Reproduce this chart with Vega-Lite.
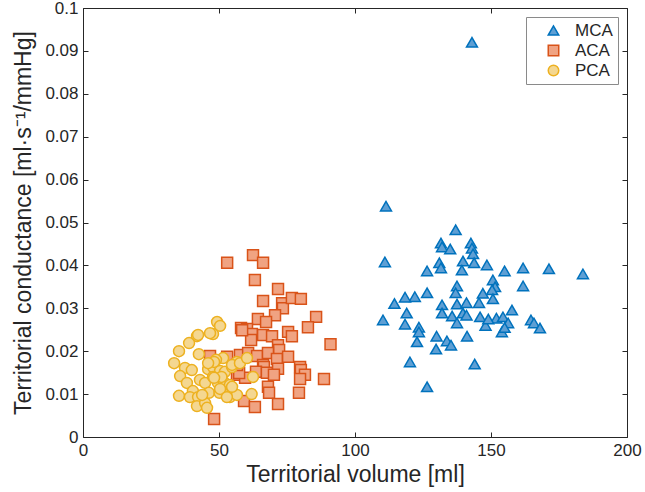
{
  "$schema": "https://vega.github.io/schema/vega-lite/v6.json",
  "width": 544,
  "height": 429,
  "autosize": "none",
  "padding": {"left": 83, "top": 8, "right": 18, "bottom": 55},
  "background": "white",
  "config": {
    "view": {"stroke": null},
    "font": "Liberation Sans",
    "axis": {
      "grid": false,
      "domainColor": "#262626",
      "tickColor": "#262626",
      "labelColor": "#262626",
      "titleColor": "#262626",
      "labelFontSize": 17,
      "titleFontSize": 23,
      "titleFontWeight": "normal",
      "labelFont": "Liberation Sans",
      "titleFont": "Liberation Sans",
      "domainWidth": 1,
      "tickWidth": 1,
      "tickSize": -5,
      "labelPadding": 10,
      "labelFlush": false,
      "labelOverlap": false
    },
    "legend": {
      "orient": "top-right",
      "offset": 9,
      "padding": 5,
      "symbolOffset": 14,
      "strokeColor": "#8a8a8a",
      "fillColor": "white",
      "labelFontSize": 17,
      "labelColor": "#262626",
      "labelFont": "Liberation Sans",
      "labelOffset": 13,
      "symbolSize": 110,
      "symbolStrokeWidth": 1.5,
      "rowPadding": 2
    }
  },
  "data": {
    "values": [
      {"artery": "MCA", "volume": 143, "conductance": 0.092},
      {"artery": "MCA", "volume": 111.4, "conductance": 0.0538},
      {"artery": "MCA", "volume": 111, "conductance": 0.0408},
      {"artery": "MCA", "volume": 110.3, "conductance": 0.0273},
      {"artery": "MCA", "volume": 137, "conductance": 0.0483},
      {"artery": "MCA", "volume": 131.6, "conductance": 0.0452},
      {"artery": "MCA", "volume": 132, "conductance": 0.0443},
      {"artery": "MCA", "volume": 135, "conductance": 0.0438},
      {"artery": "MCA", "volume": 142.6, "conductance": 0.0452},
      {"artery": "MCA", "volume": 143, "conductance": 0.044},
      {"artery": "MCA", "volume": 143.4, "conductance": 0.0427},
      {"artery": "MCA", "volume": 131, "conductance": 0.0406},
      {"artery": "MCA", "volume": 131.6, "conductance": 0.0394},
      {"artery": "MCA", "volume": 139.7, "conductance": 0.041},
      {"artery": "MCA", "volume": 139.3, "conductance": 0.0389},
      {"artery": "MCA", "volume": 143.8, "conductance": 0.0406},
      {"artery": "MCA", "volume": 148.5, "conductance": 0.0401},
      {"artery": "MCA", "volume": 155, "conductance": 0.0387},
      {"artery": "MCA", "volume": 161.8, "conductance": 0.0394},
      {"artery": "MCA", "volume": 126.5, "conductance": 0.0387},
      {"artery": "MCA", "volume": 137.5, "conductance": 0.0352},
      {"artery": "MCA", "volume": 150.7, "conductance": 0.0366},
      {"artery": "MCA", "volume": 151.5, "conductance": 0.035},
      {"artery": "MCA", "volume": 150.4, "conductance": 0.0343},
      {"artery": "MCA", "volume": 161.8, "conductance": 0.0352},
      {"artery": "MCA", "volume": 137, "conductance": 0.0336},
      {"artery": "MCA", "volume": 126.5, "conductance": 0.0336},
      {"artery": "MCA", "volume": 122, "conductance": 0.0327},
      {"artery": "MCA", "volume": 118.4, "conductance": 0.0326},
      {"artery": "MCA", "volume": 114.5, "conductance": 0.0311},
      {"artery": "MCA", "volume": 132, "conductance": 0.0308},
      {"artery": "MCA", "volume": 137.5, "conductance": 0.031},
      {"artery": "MCA", "volume": 141, "conductance": 0.0313},
      {"artery": "MCA", "volume": 145.6, "conductance": 0.0313},
      {"artery": "MCA", "volume": 150.7, "conductance": 0.0322},
      {"artery": "MCA", "volume": 119, "conductance": 0.0289},
      {"artery": "MCA", "volume": 132, "conductance": 0.0289},
      {"artery": "MCA", "volume": 135.7, "conductance": 0.0282},
      {"artery": "MCA", "volume": 139.7, "conductance": 0.0289},
      {"artery": "MCA", "volume": 141, "conductance": 0.0284},
      {"artery": "MCA", "volume": 146, "conductance": 0.028},
      {"artery": "MCA", "volume": 152, "conductance": 0.0277},
      {"artery": "MCA", "volume": 154.4, "conductance": 0.028},
      {"artery": "MCA", "volume": 157.7, "conductance": 0.0296},
      {"artery": "MCA", "volume": 156.3, "conductance": 0.0266},
      {"artery": "MCA", "volume": 164.7, "conductance": 0.0273},
      {"artery": "MCA", "volume": 165.8, "conductance": 0.0266},
      {"artery": "MCA", "volume": 168, "conductance": 0.0254},
      {"artery": "MCA", "volume": 118.4, "conductance": 0.0263},
      {"artery": "MCA", "volume": 123.5, "conductance": 0.0256},
      {"artery": "MCA", "volume": 137.5, "conductance": 0.0266},
      {"artery": "MCA", "volume": 171.3, "conductance": 0.0392},
      {"artery": "MCA", "volume": 183.8, "conductance": 0.038},
      {"artery": "MCA", "volume": 123.5, "conductance": 0.0245},
      {"artery": "MCA", "volume": 122.8, "conductance": 0.0222},
      {"artery": "MCA", "volume": 120.2, "conductance": 0.0175},
      {"artery": "MCA", "volume": 126.5, "conductance": 0.0117},
      {"artery": "MCA", "volume": 130, "conductance": 0.0235},
      {"artery": "MCA", "volume": 129.8, "conductance": 0.0205},
      {"artery": "MCA", "volume": 133.8, "conductance": 0.0224},
      {"artery": "MCA", "volume": 135.3, "conductance": 0.0214},
      {"artery": "MCA", "volume": 141.2, "conductance": 0.0235},
      {"artery": "MCA", "volume": 144, "conductance": 0.017},
      {"artery": "MCA", "volume": 148, "conductance": 0.026},
      {"artery": "MCA", "volume": 154, "conductance": 0.0245},
      {"artery": "MCA", "volume": 147, "conductance": 0.0335},
      {"artery": "MCA", "volume": 155, "conductance": 0.0255},
      {"artery": "MCA", "volume": 149, "conductance": 0.0275},
      {"artery": "ACA", "volume": 62.5, "conductance": 0.0424},
      {"artery": "ACA", "volume": 53, "conductance": 0.0406},
      {"artery": "ACA", "volume": 66.2, "conductance": 0.0406},
      {"artery": "ACA", "volume": 63.2, "conductance": 0.0366},
      {"artery": "ACA", "volume": 71.7, "conductance": 0.0345},
      {"artery": "ACA", "volume": 66.2, "conductance": 0.0317},
      {"artery": "ACA", "volume": 73.2, "conductance": 0.0312},
      {"artery": "ACA", "volume": 73.5, "conductance": 0.03},
      {"artery": "ACA", "volume": 76.8, "conductance": 0.0324},
      {"artery": "ACA", "volume": 80.1, "conductance": 0.0322},
      {"artery": "ACA", "volume": 70.6, "conductance": 0.0284},
      {"artery": "ACA", "volume": 64.3, "conductance": 0.0275},
      {"artery": "ACA", "volume": 67.3, "conductance": 0.0268},
      {"artery": "ACA", "volume": 85.7, "conductance": 0.028},
      {"artery": "ACA", "volume": 82.7, "conductance": 0.0256},
      {"artery": "ACA", "volume": 58.1, "conductance": 0.0254},
      {"artery": "ACA", "volume": 60.3, "conductance": 0.0252},
      {"artery": "ACA", "volume": 62.1, "conductance": 0.024},
      {"artery": "ACA", "volume": 61.8, "conductance": 0.0226},
      {"artery": "ACA", "volume": 66.2, "conductance": 0.0238},
      {"artery": "ACA", "volume": 69.5, "conductance": 0.0235},
      {"artery": "ACA", "volume": 75.4, "conductance": 0.0245},
      {"artery": "ACA", "volume": 76.8, "conductance": 0.0235},
      {"artery": "ACA", "volume": 71.7, "conductance": 0.0214},
      {"artery": "ACA", "volume": 72.1, "conductance": 0.0203},
      {"artery": "ACA", "volume": 91, "conductance": 0.0216},
      {"artery": "ACA", "volume": 57.7, "conductance": 0.0191},
      {"artery": "ACA", "volume": 60.7, "conductance": 0.0196},
      {"artery": "ACA", "volume": 64, "conductance": 0.0189},
      {"artery": "ACA", "volume": 68, "conductance": 0.0196},
      {"artery": "ACA", "volume": 71.3, "conductance": 0.0182},
      {"artery": "ACA", "volume": 75.4, "conductance": 0.0187},
      {"artery": "ACA", "volume": 66.2, "conductance": 0.0168},
      {"artery": "ACA", "volume": 79.8, "conductance": 0.0163},
      {"artery": "ACA", "volume": 80.1, "conductance": 0.0156},
      {"artery": "ACA", "volume": 81.6, "conductance": 0.0145},
      {"artery": "ACA", "volume": 79.8, "conductance": 0.0135},
      {"artery": "ACA", "volume": 88.6, "conductance": 0.0135},
      {"artery": "ACA", "volume": 68, "conductance": 0.0117},
      {"artery": "ACA", "volume": 68.4, "conductance": 0.0103},
      {"artery": "ACA", "volume": 79.4, "conductance": 0.0103},
      {"artery": "ACA", "volume": 59.2, "conductance": 0.0084},
      {"artery": "ACA", "volume": 63.2, "conductance": 0.007},
      {"artery": "ACA", "volume": 71.7, "conductance": 0.0077},
      {"artery": "ACA", "volume": 48.2, "conductance": 0.0042},
      {"artery": "ACA", "volume": 46.7, "conductance": 0.0189},
      {"artery": "ACA", "volume": 53, "conductance": 0.0187},
      {"artery": "ACA", "volume": 56.6, "conductance": 0.0145},
      {"artery": "ACA", "volume": 58.5, "conductance": 0.0249},
      {"artery": "ACA", "volume": 66.5, "conductance": 0.0163},
      {"artery": "ACA", "volume": 63.6, "conductance": 0.0152},
      {"artery": "ACA", "volume": 67.6, "conductance": 0.015},
      {"artery": "ACA", "volume": 71.7, "conductance": 0.0159},
      {"artery": "ACA", "volume": 70.2, "conductance": 0.0145},
      {"artery": "ACA", "volume": 59.6, "conductance": 0.0138},
      {"artery": "ACA", "volume": 57.4, "conductance": 0.0149},
      {"artery": "ACA", "volume": 56.6, "conductance": 0.0168},
      {"artery": "PCA", "volume": 49.3, "conductance": 0.0268},
      {"artery": "PCA", "volume": 50.4, "conductance": 0.0259},
      {"artery": "PCA", "volume": 47.8, "conductance": 0.024},
      {"artery": "PCA", "volume": 41.9, "conductance": 0.0235},
      {"artery": "PCA", "volume": 39, "conductance": 0.0219},
      {"artery": "PCA", "volume": 35.3, "conductance": 0.02},
      {"artery": "PCA", "volume": 42.6, "conductance": 0.0193},
      {"artery": "PCA", "volume": 33.5, "conductance": 0.0172},
      {"artery": "PCA", "volume": 37.5, "conductance": 0.0161},
      {"artery": "PCA", "volume": 40, "conductance": 0.0156},
      {"artery": "PCA", "volume": 46, "conductance": 0.0158},
      {"artery": "PCA", "volume": 35.7, "conductance": 0.0142},
      {"artery": "PCA", "volume": 38.2, "conductance": 0.0126},
      {"artery": "PCA", "volume": 43, "conductance": 0.0133},
      {"artery": "PCA", "volume": 44.9, "conductance": 0.0126},
      {"artery": "PCA", "volume": 40.4, "conductance": 0.0107},
      {"artery": "PCA", "volume": 35.3, "conductance": 0.0096},
      {"artery": "PCA", "volume": 39.3, "conductance": 0.0093},
      {"artery": "PCA", "volume": 42.3, "conductance": 0.0093},
      {"artery": "PCA", "volume": 46.3, "conductance": 0.0103},
      {"artery": "PCA", "volume": 41.9, "conductance": 0.0072},
      {"artery": "PCA", "volume": 44.9, "conductance": 0.0079},
      {"artery": "PCA", "volume": 47.8, "conductance": 0.0163},
      {"artery": "PCA", "volume": 51.5, "conductance": 0.0184},
      {"artery": "PCA", "volume": 48.9, "conductance": 0.018},
      {"artery": "PCA", "volume": 50.4, "conductance": 0.0154},
      {"artery": "PCA", "volume": 52.2, "conductance": 0.0152},
      {"artery": "PCA", "volume": 54.8, "conductance": 0.0163},
      {"artery": "PCA", "volume": 56.6, "conductance": 0.0175},
      {"artery": "PCA", "volume": 47.8, "conductance": 0.014},
      {"artery": "PCA", "volume": 49.6, "conductance": 0.0126},
      {"artery": "PCA", "volume": 51.8, "conductance": 0.0128},
      {"artery": "PCA", "volume": 54, "conductance": 0.0121},
      {"artery": "PCA", "volume": 51.1, "conductance": 0.0105},
      {"artery": "PCA", "volume": 54, "conductance": 0.0093},
      {"artery": "PCA", "volume": 56.6, "conductance": 0.0098},
      {"artery": "PCA", "volume": 43.8, "conductance": 0.0098},
      {"artery": "PCA", "volume": 54.8, "conductance": 0.0168},
      {"artery": "PCA", "volume": 57.7, "conductance": 0.0172},
      {"artery": "PCA", "volume": 60.3, "conductance": 0.0184},
      {"artery": "PCA", "volume": 62.5, "conductance": 0.014},
      {"artery": "PCA", "volume": 54.8, "conductance": 0.0117},
      {"artery": "PCA", "volume": 62, "conductance": 0.01},
      {"artery": "PCA", "volume": 50.9, "conductance": 0.014},
      {"artery": "PCA", "volume": 50.2, "conductance": 0.0103},
      {"artery": "PCA", "volume": 46.7, "conductance": 0.0242},
      {"artery": "PCA", "volume": 42.3, "conductance": 0.0238},
      {"artery": "PCA", "volume": 48.2, "conductance": 0.0175},
      {"artery": "PCA", "volume": 48.2, "conductance": 0.0138},
      {"artery": "PCA", "volume": 50.4, "conductance": 0.0112},
      {"artery": "PCA", "volume": 45.6, "conductance": 0.0068},
      {"artery": "PCA", "volume": 52.9, "conductance": 0.0093},
      {"artery": "PCA", "volume": 46, "conductance": 0.0172}
    ]
  },
  "layer": [
    {
      "mark": {"type": "point", "filled": true, "size": 120, "strokeWidth": 1.5, "opacity": 1},
      "encoding": {
        "x": {
          "field": "volume", "type": "quantitative",
          "scale": {"domain": [0, 200], "nice": false},
          "axis": {"title": "Territorial volume [ml]", "values": [0, 50, 100, 150, 200], "titlePadding": 5}
        },
        "y": {
          "field": "conductance", "type": "quantitative",
          "scale": {"domain": [0, 0.1], "nice": false},
          "axis": {"title": "Territorial conductance [ml·s⁻¹/mmHg]", "values": [0, 0.01, 0.02, 0.03, 0.04, 0.05, 0.06, 0.07, 0.08, 0.09, 0.1], "format": "~g", "titlePadding": 9}
        },
        "shape": {
          "field": "artery", "type": "nominal",
          "scale": {"domain": ["MCA", "ACA", "PCA"], "range": ["triangle-up", "square", "circle"]},
          "legend": {"title": null}
        },
        "fill": {
          "field": "artery", "type": "nominal",
          "scale": {"domain": ["MCA", "ACA", "PCA"], "range": ["#5e9fd4", "#f0a382", "#f4d791"]},
          "legend": {"title": null}
        },
        "stroke": {
          "field": "artery", "type": "nominal",
          "scale": {"domain": ["MCA", "ACA", "PCA"], "range": ["#0072bd", "#d95319", "#edb120"]},
          "legend": {"title": null}
        }
      }
    },
    {
      "mark": {"type": "point", "opacity": 0},
      "encoding": {
        "x": {
          "field": "volume", "type": "quantitative",
          "scale": {"domain": [0, 200], "nice": false},
          "axis": {"orient": "top", "title": null, "labels": false, "values": [0, 50, 100, 150, 200]}
        },
        "y": {
          "field": "conductance", "type": "quantitative",
          "scale": {"domain": [0, 0.1], "nice": false},
          "axis": {"orient": "right", "title": null, "labels": false, "values": [0, 0.01, 0.02, 0.03, 0.04, 0.05, 0.06, 0.07, 0.08, 0.09, 0.1]}
        }
      }
    }
  ],
  "resolve": {"axis": {"x": "independent", "y": "independent"}}
}
